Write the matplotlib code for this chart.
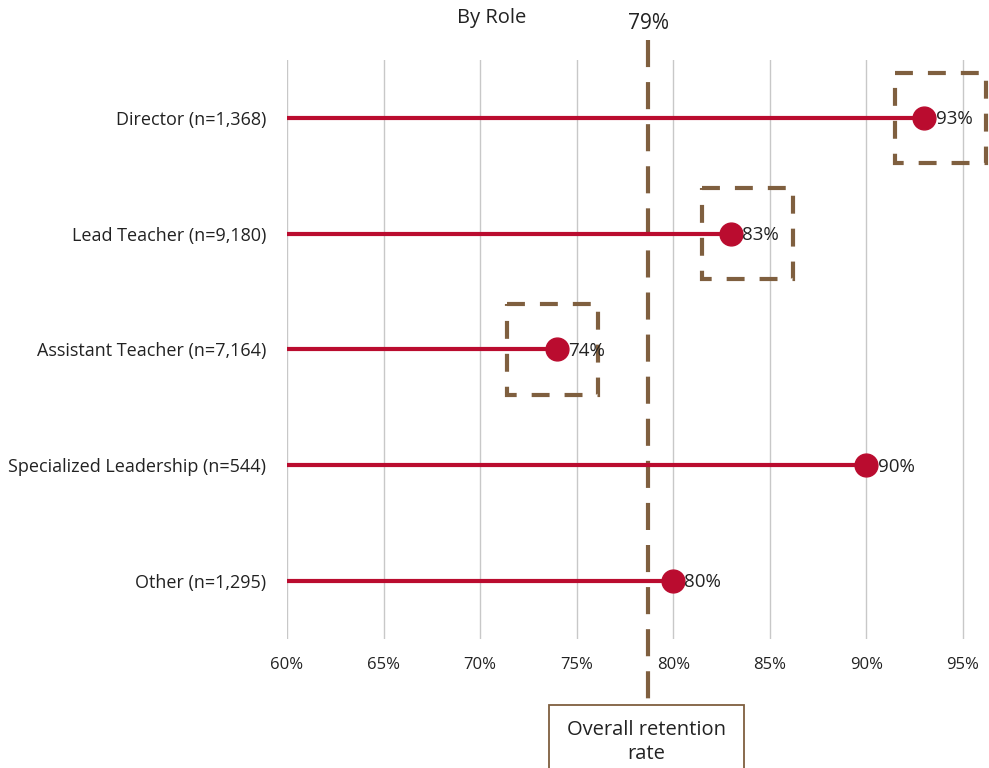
import matplotlib.pyplot as plt
from matplotlib.patches import Rectangle
from matplotlib.ticker import FuncFormatter

plt.rcParams['font.family'] = ['Open Sans', 'DejaVu Sans']

# Retention rate by role
roles = ['Director (n=1,368)', 'Lead Teacher (n=9,180)', 'Assistant Teacher (n=7,164)',
         'Specialized Leadership (n=544)', 'Other (n=1,295)']
retention = [0.93, 0.83, 0.74, 0.90, 0.80]
highlight = [True, True, True, False, False]
overall_rate = 0.787

red = '#BA0C2F'
brown = '#7F5F3F'
dash = (0, (4.3, 3.6))

# left edge of each callout box, relative to its dot
box_shift = {0: -0.015, 1: -0.015, 2: -0.026}

fig = plt.figure(figsize=(9.89, 7.68), dpi=100)
ax = fig.add_axes([0.2902, 0.168, 0.6855, 0.754])

ypos = list(range(len(roles)))
ax.hlines(ypos, 0.60, retention, color=red, lw=3, zorder=3)
ax.scatter(retention, ypos, s=270, color=red, zorder=4, clip_on=False)

for y, v, hl in zip(ypos, retention, highlight):
    ax.annotate(f'{v:.0%}', (v, y), xytext=(8, -1), textcoords='offset points',
                ha='left', va='center', fontsize=13.5, color='#222222', zorder=5)
    if hl:
        ax.add_patch(Rectangle((v + box_shift[y], y - 0.39), 0.047, 0.78, fill=False,
                               ec=brown, lw=3, ls=dash, clip_on=False, zorder=2))

ax.set_xlim(0.60, 0.951)
ax.set_ylim(len(roles) - 0.5, -0.5)
ax.set_xticks([0.60, 0.65, 0.70, 0.75, 0.80, 0.85, 0.90, 0.95])
ax.xaxis.set_major_formatter(FuncFormatter(lambda x, _: f'{x:.0%}'))
ax.set_yticks(ypos)
ax.set_yticklabels(roles)
ax.tick_params(length=0, labelcolor='#222222')
ax.tick_params(axis='x', pad=13, labelsize=12)
ax.tick_params(axis='y', pad=15, labelsize=13)
ax.grid(axis='x', color='#C8C8C8', lw=1)
ax.set_axisbelow(True)
for s in ax.spines.values():
    s.set_visible(False)

# overall retention reference line
ax.plot([overall_rate, overall_rate], [1.035, -0.114], transform=ax.get_xaxis_transform(),
        color=brown, lw=3, ls=(0, (6.5, 3.6)), clip_on=False, zorder=1)
ax.text(overall_rate, 1.045, f'{overall_rate:.0%}', transform=ax.get_xaxis_transform(),
        ha='center', va='bottom', fontsize=15, color='#222222')

fig.patches.append(Rectangle((0.555, -0.01), 0.197, 0.092, transform=fig.transFigure,
                             fc='white', ec=brown, lw=1.3, zorder=3))
fig.text(0.6535, 0.034, 'Overall retention\nrate', ha='center', va='center',
         fontsize=14.5, linespacing=1.25, color='#222222', zorder=4)

fig.text(0.497, 0.977, 'By Role', ha='center', va='center', fontsize=14.5, color='#222222')

fig.savefig('out.png', dpi=100)
